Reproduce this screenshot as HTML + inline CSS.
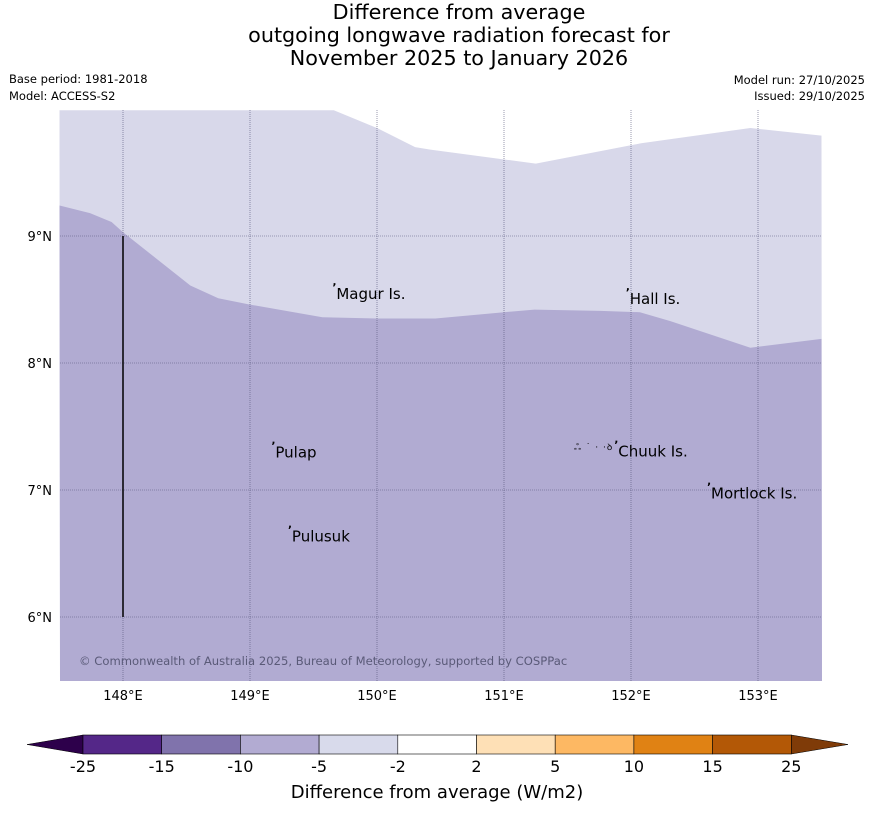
<!DOCTYPE html>
<html><head><meta charset="utf-8"><style>
body{margin:0;background:#fff;font-family:"Liberation Sans","DejaVu Sans",sans-serif}
svg text{font-family:"DejaVu Sans","Liberation Sans",sans-serif}
</style></head><body>
<svg id="c" width="873" height="816">
<g font-size="20.7" text-anchor="middle" fill="#000">
<text x="459" y="19">Difference from average</text>
<text x="459" y="42">outgoing longwave radiation forecast for</text>
<text x="459" y="65">November 2025 to January 2026</text>
</g>
<text x="9" y="83" font-size="11.5">Base period: 1981-2018</text>
<text x="9" y="100" font-size="11.5">Model: ACCESS-S2</text>
<text x="865" y="84" font-size="11.5" text-anchor="end">Model run: 27/10/2025</text>
<text x="865" y="100" font-size="11.5" text-anchor="end">Issued: 29/10/2025</text>
<g id="map"></g>
<g id="cbar"></g>
<text x="437" y="798" font-size="18" text-anchor="middle">Difference from average (W/m2)</text>
</svg>
<script>
const lonTicks=[148,149,150,151,152,153];
const latTicks=[9,8,7,6];
const lightTopLon=[147.5,149.66,150.0,150.3,150.42,151.25,152.08,152.94,153.5];
const lightTopLat=[9.99,9.99,9.85,9.70,9.68,9.57,9.73,9.85,9.79];
const darkTopLon=[147.5,147.74,147.91,148.0,148.53,148.75,149.0,149.57,150.0,150.46,151.0,151.24,151.76,152.07,152.31,152.94,153.5];
const darkTopLat=[9.24,9.18,9.11,9.03,8.61,8.51,8.46,8.36,8.35,8.35,8.40,8.42,8.41,8.40,8.33,8.12,8.19];
const places=["Magur Is.","Hall Is.","Pulap","Chuuk Is.","Mortlock Is.","Pulusuk"];
const placeLon=[149.68,151.99,149.2,151.9,152.63,149.33];
const placeLat=[8.56,8.52,7.31,7.32,6.99,6.65];
const cbLevels=["-25","-15","-10","-5","-2","2","5","10","15","25"];
const cbColors=["#542788","#8073ac","#b2abd2","#d8daeb","#ffffff","#fee0b6","#fdb863","#e08214","#b35806"];
const NS="http://www.w3.org/2000/svg";
const X0=60,X1=822,Y0=110,Y1=681;
const xs=lon=>123+(lon-148)*127, ys=lat=>236-(lat-9)*127;
function mk(p,t,a){const e=document.createElementNS(NS,t);for(const k in a)e.setAttribute(k,a[k]);p.appendChild(e);return e;}
const map=document.getElementById('map');
let pl=lightTopLon.map((l,i)=>xs(l)+','+Math.max(Y0,ys(lightTopLat[i]))).join(' ');
let light=mk(map,'polygon',{points:pl+` ${X1},${Y1} ${X0},${Y1}`,fill:'#d8d8ea'});


let dl=darkTopLon.map((l,i)=>xs(l)+','+ys(darkTopLat[i])).join(' ');
let dark=mk(map,'polygon',{points:dl+` ${X1},${Y1} ${X0},${Y1}`,fill:'#b1abd2'});


lonTicks.forEach(l=>{const g=mk(map,'line',{x1:xs(l),x2:xs(l),y1:Y0,y2:Y1,stroke:'#55557a','stroke-width':0.6,'stroke-dasharray':'1,1'});


const t=mk(map,'text',{x:xs(l),y:700,'font-size':13,'text-anchor':'middle'});t.textContent=l+'°E';

});
latTicks.forEach(l=>{const g=mk(map,'line',{x1:X0,x2:X1,y1:ys(l),y2:ys(l),stroke:'#55557a','stroke-width':0.6,'stroke-dasharray':'1,1'});


const t=mk(map,'text',{x:52,y:ys(l)+5,'font-size':13,'text-anchor':'end'});t.textContent=l+'°N';

});
const bl=mk(map,'line',{x1:xs(148),x2:xs(148),y1:ys(9),y2:ys(6),stroke:'#000','stroke-width':1.5});


places.forEach((p,i)=>{const x=xs(placeLon[i]),y=ys(placeLat[i]);
const m=mk(map,'text',{x:x-4,y:y-1,'font-size':11,'font-weight':'bold'});m.textContent='ʼ';


const t=mk(map,'text',{x:x,y:y+7,'font-size':15});t.textContent=p;

});
const ch=mk(map,'text',{x:574,y:450,'font-size':9,'letter-spacing':'1'});ch.textContent='ஃ ˙ · ·ꝺ';


const cp=mk(map,'text',{x:79,y:665,'font-size':11.6,fill:'#5a5a78'});cp.textContent='© Commonwealth of Australia 2025, Bureau of Meteorology, supported by COSPPac';


const cb=document.getElementById('cbar');
const bx0=83,bw=78.7,by=735,bh=19;
const la=mk(cb,'polygon',{points:`27,${by+bh/2} ${bx0},${by} ${bx0},${by+bh}`,fill:'#2d004b',stroke:'#000','stroke-width':0.5});


const xe=bx0+bw*cbColors.length;
const ra=mk(cb,'polygon',{points:`848,${by+bh/2} ${xe},${by} ${xe},${by+bh}`,fill:'#7f3b08',stroke:'#000','stroke-width':0.5});


cbColors.forEach((c,i)=>{const r=mk(cb,'rect',{x:bx0+i*bw,y:by,width:bw,height:bh,fill:c,stroke:'#000','stroke-width':0.6});

});
cbLevels.forEach((l,i)=>{const t=mk(cb,'text',{x:bx0+i*bw,y:772,'font-size':16,'text-anchor':'middle'});t.textContent=l;

});
</script>
</body></html>
